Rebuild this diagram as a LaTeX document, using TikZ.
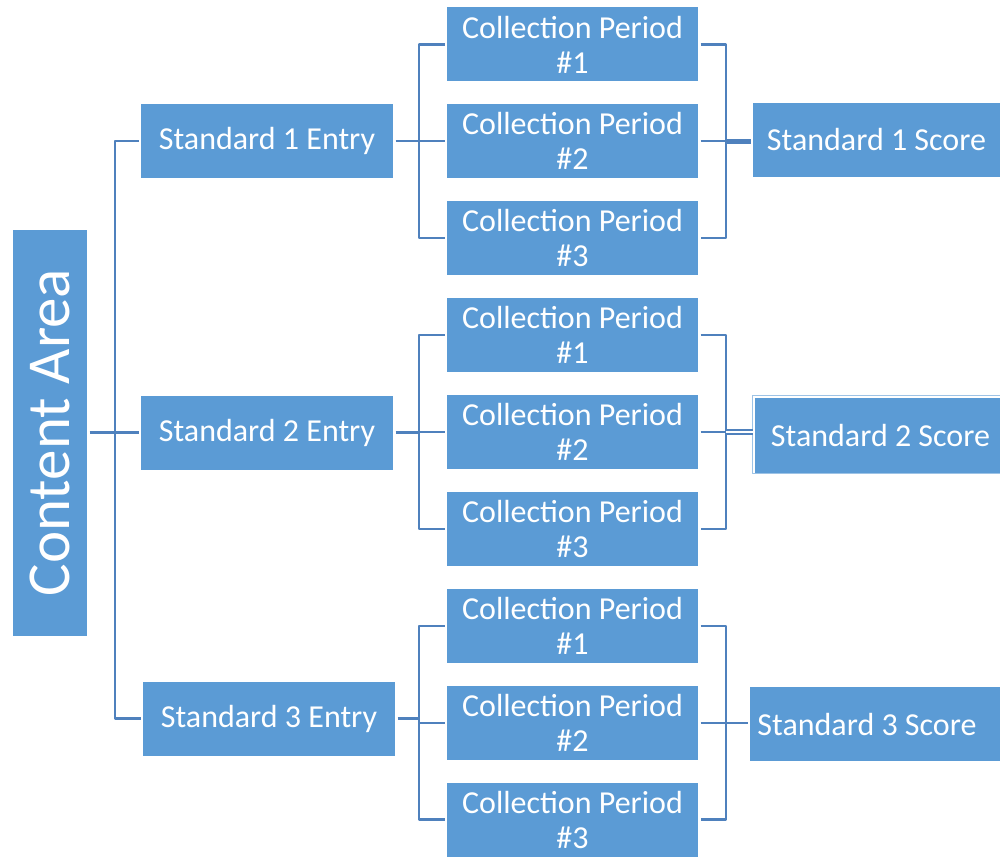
\documentclass[tikz,border=0pt]{standalone}
\usepackage{fontspec}
\setmainfont{Carlito}
\definecolor{boxblue}{HTML}{5B9BD5}
\definecolor{lineblue}{HTML}{4F81BD}
\definecolor{edgeblue}{HTML}{9DC3E6}
\tikzset{
  block/.style={fill=boxblue, text=white, inner sep=0pt, outer sep=2.5pt,
    minimum width=252pt, minimum height=74pt, align=center,
    font=\fontsize{32}{35}\selectfont},
  conn/.style={draw=lineblue, line width=2.5pt}
}
\begin{document}
\begin{tikzpicture}[x=1pt, y=-1pt, line join=round]
					\useasboundingbox (0,0) rectangle (1000,856);
					%%%%%%%%%%%%%%%%%%%%%%%%%%%%%%%%%
					\node[block, rotate=90, minimum width=406pt, font=\fontsize{61}{64}\selectfont] (ca) at (50,432.5) {Content Area};
					\node[block] (e1) at (267,141) {Standard 1 Entry};
					\node[block] (e2) at (267,432.5) {Standard 2 Entry};
					\node[block] (e3) at (269,718.5) {Standard 3 Entry};
					%%%%%%%%%%%%%%%%%%%%%%%%%%%%%%%%%
					\node[block, minimum width=251pt] (c11) at (572.5,44.5) {Collection Period\\\#1};
					\node[block, minimum width=251pt] (c12) at (572.5,141) {Collection Period\\\#2};
					\node[block, minimum width=251pt] (c13) at (572.5,238) {Collection Period\\\#3};
					\node[block, minimum width=251pt] (c21) at (572.5,335) {Collection Period\\\#1};
					\node[block, minimum width=251pt] (c22) at (572.5,432) {Collection Period\\\#2};
					\node[block, minimum width=251pt] (c23) at (572.5,529) {Collection Period\\\#3};
					\node[block, minimum width=251pt] (c31) at (572.5,626) {Collection Period\\\#1};
					\node[block, minimum width=251pt] (c32) at (572.5,723) {Collection Period\\\#2};
					\node[block, minimum width=251pt] (c33) at (572.5,819.5) {Collection Period\\\#3};
					%%%%%%%%%%%%%%%%%%%%%%%%%%%%%%%%%
					\draw[edgeblue, line width=1pt] (752,395) rectangle (1002,473);
					\node[block, minimum width=247pt] (s1) at (876.5,140) {Standard 1 Score};
					\node[block, minimum width=245pt, minimum height=75pt] (s2) at (877.5,435.5) {\hspace*{6pt}Standard 2 Score};
					\node[block, minimum width=250pt] (s3) at (875,724) {Standard 3 Score\hspace*{16pt}};
					%%%%%%%%%%%%%%%%%%%%%%%%%%%%%%%%%
					\coordinate (spine) at (115,432.5);
					\coordinate (lb1) at (419,141);
					\coordinate (lb2) at (419,432);
					\coordinate (lb3) at (419,723);
					\coordinate (rb1) at (726,141);
					\coordinate (rb2) at (726,432);
					\coordinate (rb3) at (726,723);
					%%%%%%%%%%%%%%%%%%%%%%%%%%%%%%%%%
					\draw[conn] (ca.south) -- (spine);
					\draw[conn] (e1.west) -| (spine) |- (e3.west);
					\draw[conn] (spine) -- (e2.west);
					% entry brackets
					\draw[conn] (e1.east) -- (e1.east -| lb1);
					\draw[conn] (c11.west) -| (lb1) |- (c13.west);
					\draw[conn] (c12.west) -- (c12.west -| lb1);
					\draw[conn] (e2.east) -- (e2.east -| lb2);
					\draw[conn] (c21.west) -| (lb2) |- (c23.west);
					\draw[conn] (c22.west) -- (c22.west -| lb2);
					\draw[conn] (e3.east) -- (e3.east -| lb3);
					\draw[conn] (c31.west) -| (lb3) |- (c33.west);
					\draw[conn] (c32.west) -- (c32.west -| lb3);
					% score brackets
					\draw[conn] (c11.east) -| (rb1) |- (c13.east);
					\draw[conn] (c12.east) -- (rb1);
					\draw[conn, line width=5pt] (rb1) -- (rb1 -| s1.west);
					\draw[conn] (c21.east) -| (rb2) |- (c23.east);
					\draw[conn] (c22.east) -- (rb2);
					\draw[conn, line width=2pt, double, double distance=2pt] (rb2) -- (rb2 -| s2.west);
					\draw[conn] (c31.east) -| (rb3) |- (c33.east);
					\draw[conn] (c32.east) -- (c32.east -| s3.west);
					%%%%%%%%%%%%%%%%%%%%%%%%%%%%%%%%%
\end{tikzpicture}
\end{document}
